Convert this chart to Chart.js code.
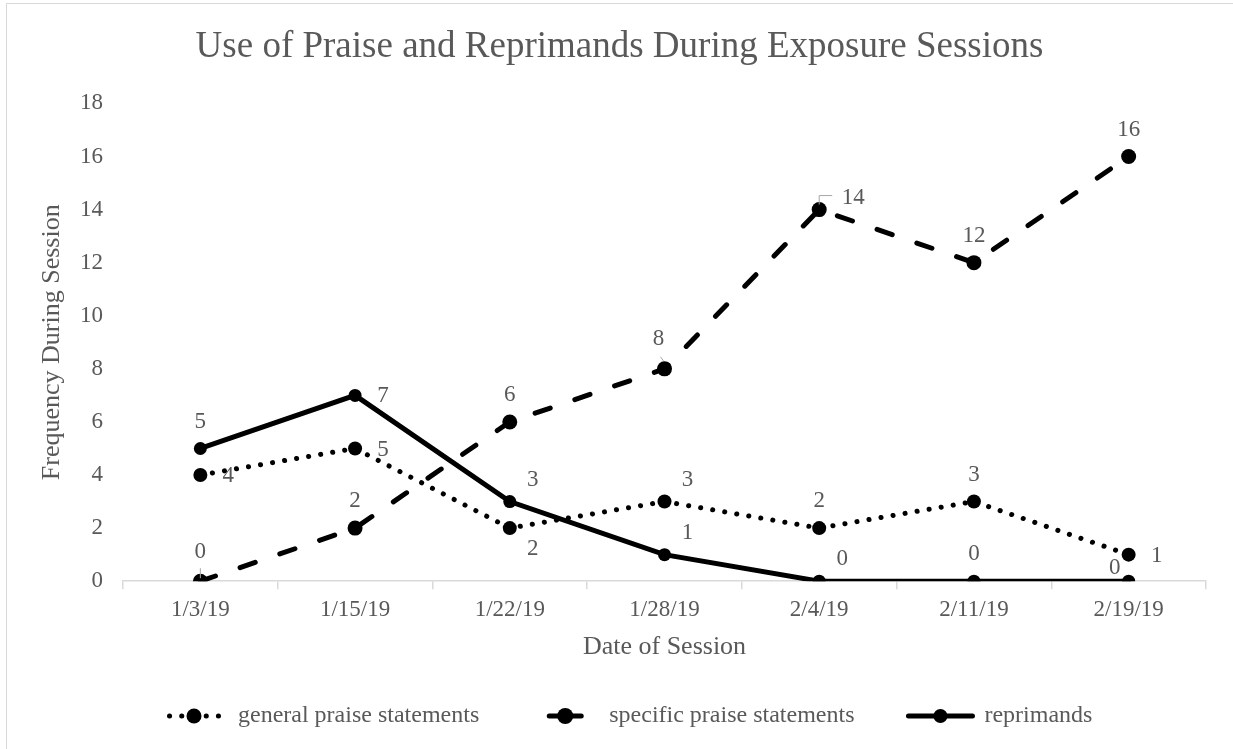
<!DOCTYPE html>
<html>
<head>
<meta charset="utf-8">
<script src="https://cdn.jsdelivr.net/npm/chart.js@4.4.1/dist/chart.umd.min.js"></script>
<style>
  html, body { margin: 0; padding: 0; background: #fff; overflow: hidden; }
  #frame { position: absolute; left: 6px; top: 3px; width: 1400px; height: 900px; border: 1px solid #d9d9d9; }
  #wrap { position: absolute; left: 0; top: 0; width: 1233px; height: 749px; }
</style>
</head>
<body>
<div id="frame"></div>
<div id="wrap"><canvas id="praiseChart"></canvas></div>
<script>
// data
const sessionDates = ['1/3/19', '1/15/19', '1/22/19', '1/28/19', '2/4/19', '2/11/19', '2/19/19'];
const generalPraise = [4, 5, 2, 3, 2, 3, 1];
const specificPraise = [0, 2, 6, 8, 14, 12, 16];
const reprimands = [5, 7, 3, 1, 0, 0, 0];

// where each value label sits relative to its point
const generalLabelSpots = ['right', 'right', 'belowRight', 'aboveRight', 'above', 'above', 'right'];
const specificLabelSpots = ['leadAbove', 'above', 'above', 'leadAboveLeft', 'leadFarRight', 'above', 'above'];
const reprimandLabelSpots = ['above', 'right', 'aboveRight', 'aboveRight', 'aboveRight', 'above', 'aboveLeft'];

const serif = "'Liberation Serif', 'Times New Roman', serif";
const grey = '#595959';

const spotOffsets = {
    above: [0, -27],
    right: [28, 1],
    belowRight: [23, 21],
    aboveRight: [23, -22],
    aboveLeft: [-14, -13],
    leadAbove: [0, -29],
    leadAboveLeft: [-6, -30],
    leadFarRight: [34, -12]
};

// value labels + leader lines
const valueLabels = {
    id: 'valueLabels',
    afterDatasetsDraw(chart) {
        const ctx = chart.ctx;
        ctx.save();
        ctx.font = '23px ' + serif;
        ctx.fillStyle = grey;
        ctx.textAlign = 'center';
        ctx.textBaseline = 'middle';
        chart.data.datasets.forEach((ds, i) => {
            const meta = chart.getDatasetMeta(i);
            meta.data.forEach((pt, j) => {
                const spot = ds.labelSpots[j];
                const off = spotOffsets[spot];
                const lx = pt.x + off[0], ly = pt.y + off[1];
                ctx.fillText(String(ds.data[j]), lx, ly);
                ctx.strokeStyle = '#a6a6a6';
                ctx.lineWidth = 1;
                ctx.beginPath();
                if (spot === 'leadAbove') {
                    ctx.moveTo(pt.x, pt.y - 3);
                    ctx.lineTo(pt.x, pt.y - 13);
                } else if (spot === 'leadAboveLeft') {
                    ctx.moveTo(pt.x - 4, pt.y - 12);
                    ctx.lineTo(pt.x - 1, pt.y - 8);
                } else if (spot === 'leadFarRight') {
                    ctx.moveTo(pt.x, pt.y - 5);
                    ctx.lineTo(pt.x, pt.y - 14);
                    ctx.lineTo(pt.x + 13, pt.y - 14);
                }
                ctx.stroke();
            });
        });
        ctx.restore();
    }
};

// legend like Excel: line segment with marker in the middle
const lineLegend = {
    id: 'lineLegend',
    afterDraw(chart) {
        const ctx = chart.ctx;
        ctx.save();
        ctx.font = '24px ' + serif;
        ctx.textBaseline = 'middle';
        const y = 716;
        let x = 160;
        chart.data.datasets.forEach(ds => {
            ctx.strokeStyle = '#000';
            ctx.lineWidth = ds.borderWidth;
            ctx.lineCap = 'round';
            ctx.setLineDash(ds.borderDash || []);
            ctx.beginPath();
            ctx.moveTo(x + 34, y); ctx.lineTo(x + 2, y);
            ctx.moveTo(x + 34, y); ctx.lineTo(x + 66, y);
            ctx.stroke();
            ctx.setLineDash([]);
            ctx.fillStyle = '#000';
            ctx.beginPath();
            ctx.arc(x + 34, y, ds.pointRadius + 0.5, 0, Math.PI * 2);
            ctx.fill();
            ctx.fillStyle = grey;
            ctx.textAlign = 'left';
            ctx.fillText(ds.label, x + 78, y);
            x += 78 + ctx.measureText(ds.label).width + 52;
        });
        ctx.restore();
    }
};

const ctx1 = document.getElementById('praiseChart').getContext('2d');
const praiseChart = new Chart(ctx1, {
    type: 'line',
    data: {
        labels: sessionDates,
        datasets: [{
            label: 'general praise statements',
            data: generalPraise,
            labelSpots: generalLabelSpots,
            borderColor: '#000',
            backgroundColor: '#000',
            borderWidth: 5,
            borderDash: [0.1, 12.1],
            borderCapStyle: 'round',
            pointRadius: 7,
            pointBorderWidth: 0,
            tension: 0
        }, {
            label: 'specific praise statements',
            data: specificPraise,
            labelSpots: specificLabelSpots,
            borderColor: '#000',
            backgroundColor: '#000',
            borderWidth: 5,
            borderDash: [16, 26],
            borderCapStyle: 'round',
            pointRadius: 7.5,
            pointBorderWidth: 0,
            tension: 0
        }, {
            label: 'reprimands',
            data: reprimands,
            labelSpots: reprimandLabelSpots,
            borderColor: '#000',
            backgroundColor: '#000',
            borderWidth: 5,
            borderCapStyle: 'round',
            pointRadius: 6.5,
            pointBorderWidth: 0,
            tension: 0
        }]
    },
    options: {
        responsive: true,
        maintainAspectRatio: false,
        animation: false,
        layout: { padding: { left: 33, right: 27, top: 0, bottom: 86 } },
        plugins: {
            legend: { display: false },
            tooltip: { enabled: false },
            title: {
                display: true,
                text: 'Use of Praise and Reprimands During Exposure Sessions',
                color: grey,
                font: { family: serif, size: 37, weight: 'normal', lineHeight: 1.2 },
                padding: { top: 25, bottom: 34 }
            }
        },
        scales: {
            x: {
                offset: true,
                grid: { offset: true, drawOnChartArea: false, tickLength: 8, color: '#d9d9d9', lineWidth: 1.5 },
                border: { color: '#d9d9d9', width: 1.5 },
                ticks: { color: grey, font: { family: serif, size: 23 }, padding: 7, maxRotation: 0 },
                title: {
                    display: true,
                    text: 'Date of Session',
                    color: grey,
                    font: { family: serif, size: 26, lineHeight: 1.2 },
                    padding: { top: 1, bottom: 0 }
                }
            },
            y: {
                min: 0,
                max: 18,
                grid: { display: false, drawTicks: false },
                border: { display: false },
                ticks: { stepSize: 2, color: grey, font: { family: serif, size: 23 }, padding: 20 },
                title: {
                    display: true,
                    text: 'Frequency During Session',
                    color: grey,
                    font: { family: serif, size: 26, lineHeight: 1.2 },
                    padding: { top: 4, bottom: 0 }
                },
                afterFit(scale) {
                    scale.width = 90;
                }
            }
        }
    },
    plugins: [valueLabels, lineLegend]
});
</script>
</body>
</html>
